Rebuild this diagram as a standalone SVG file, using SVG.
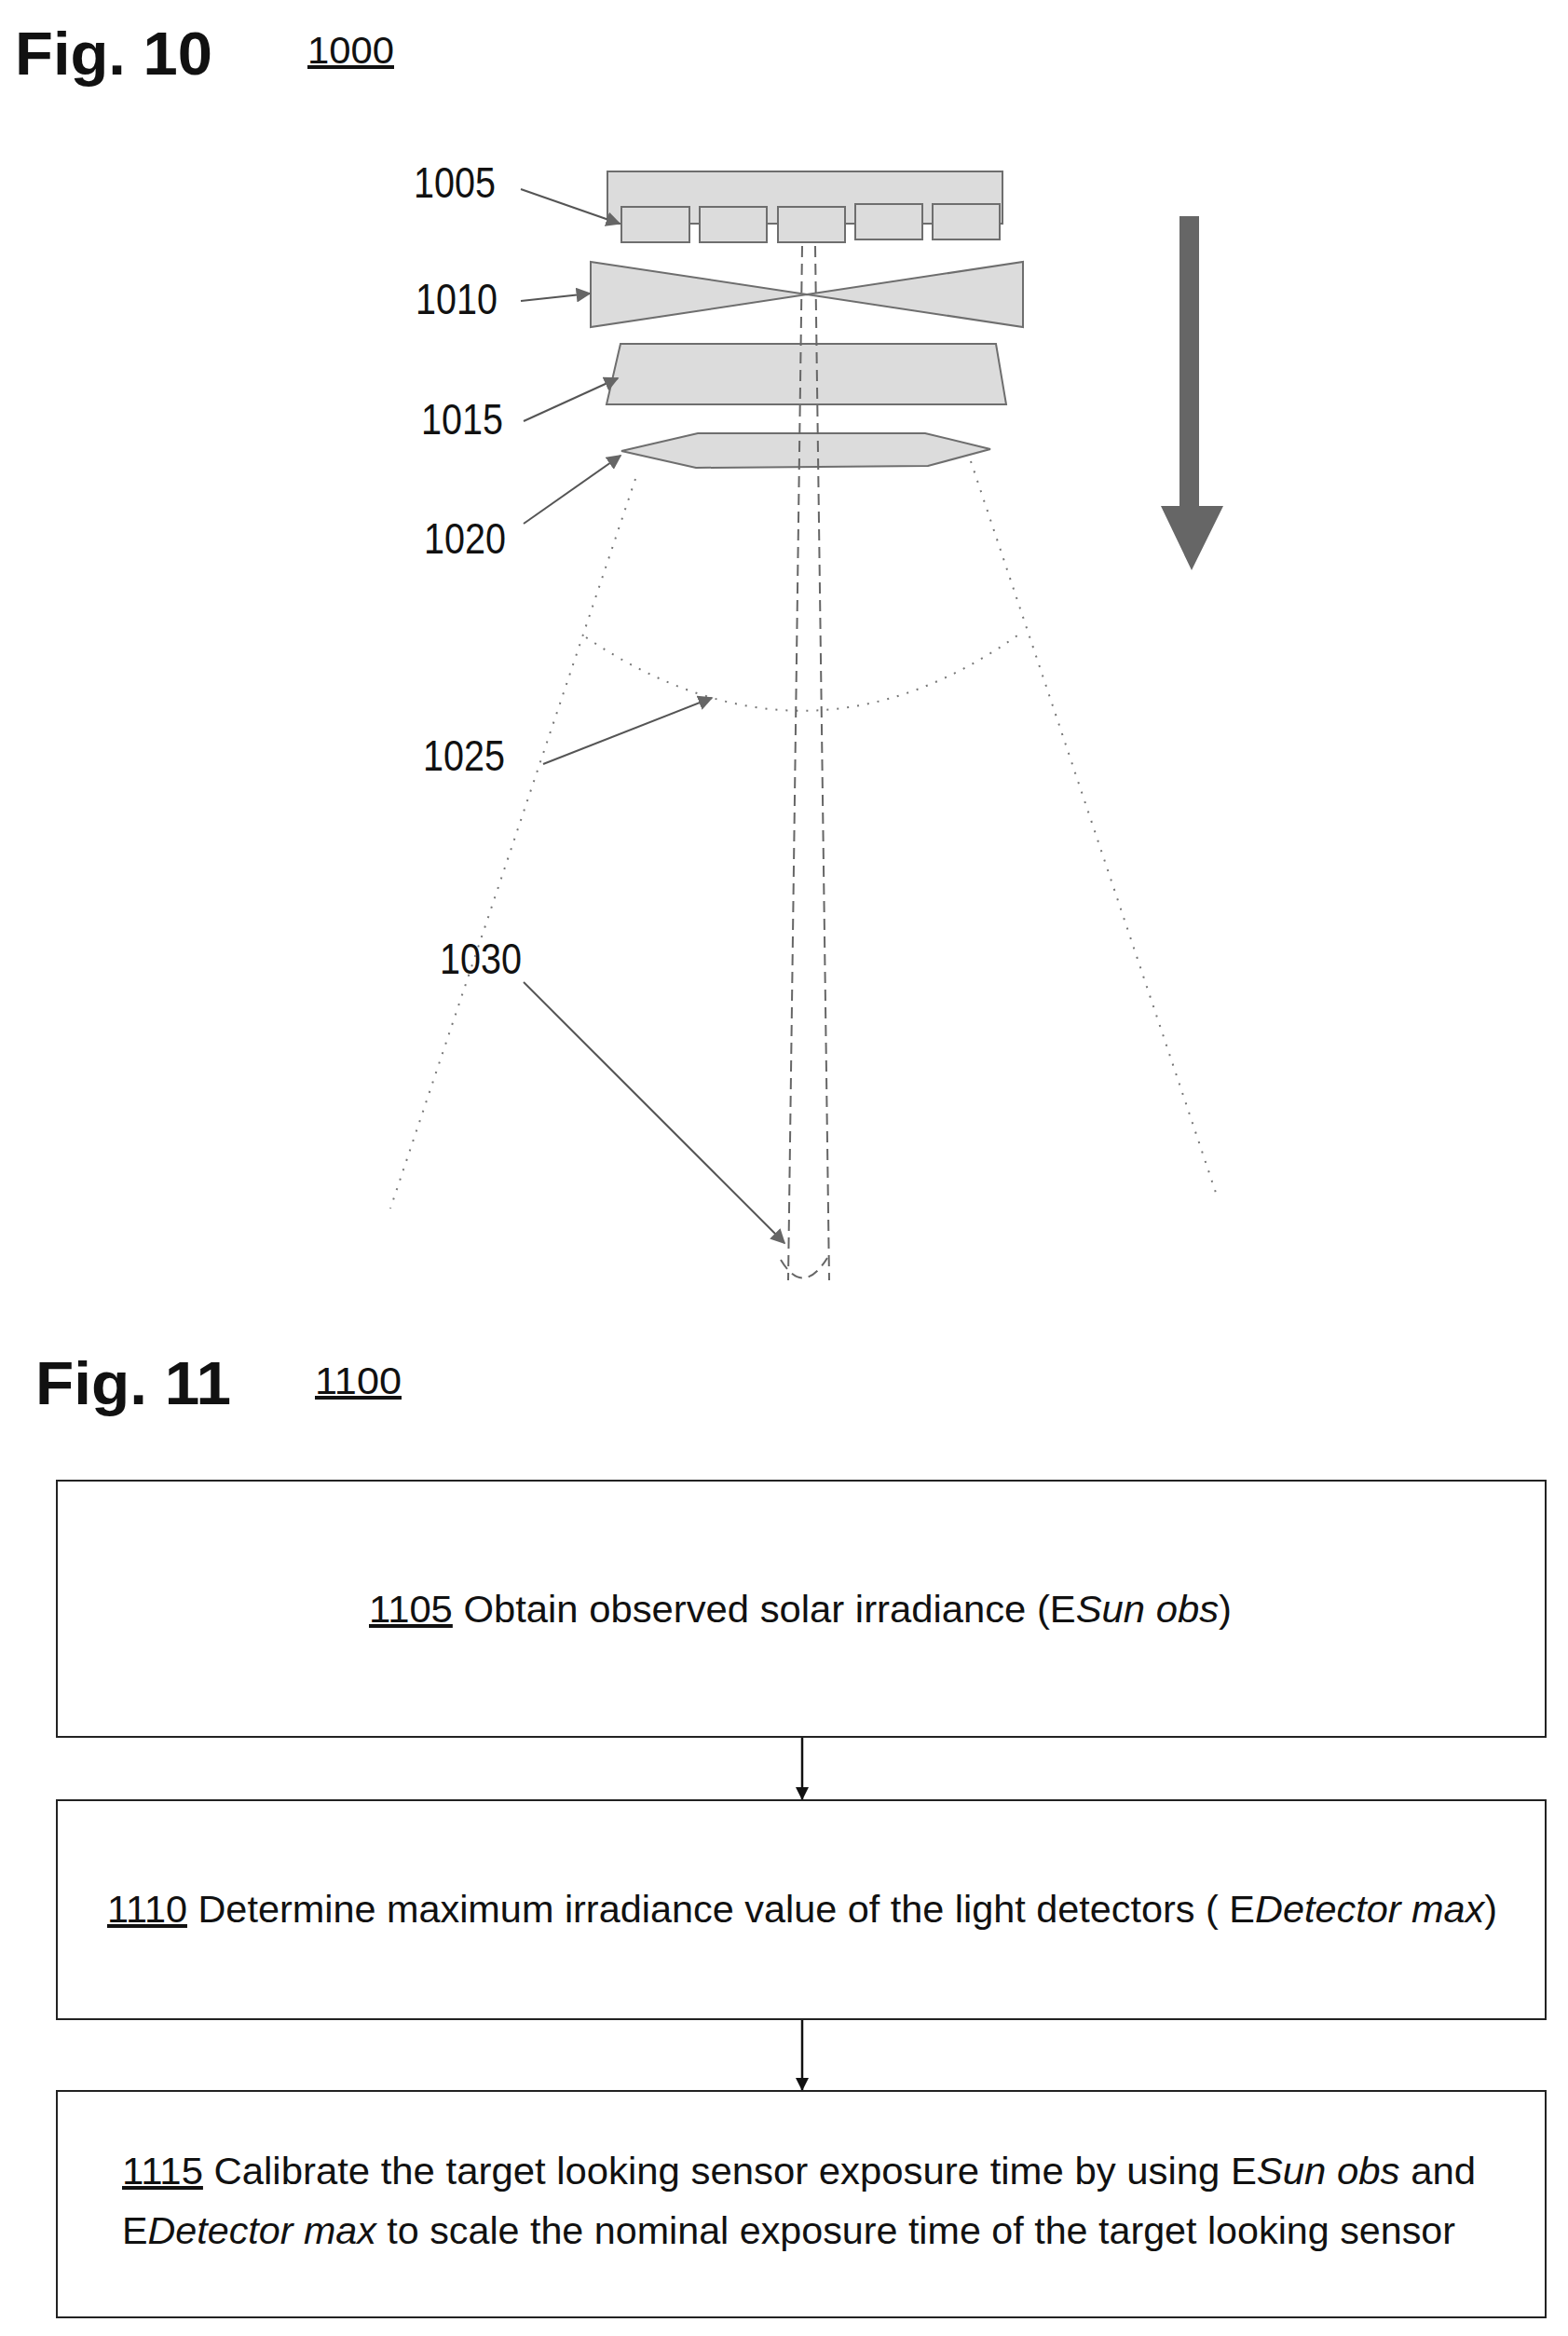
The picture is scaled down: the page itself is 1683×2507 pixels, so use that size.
<svg xmlns="http://www.w3.org/2000/svg" width="1683" height="2507" viewBox="0 0 1683 2507">
<defs>
<style>
.part{fill:#dcdcdc;stroke:#6e6e6e;stroke-width:2}
.lbl{font-family:"Liberation Sans",Arial,sans-serif;font-size:46px;fill:#111}
.lead{stroke:#555;stroke-width:2;fill:none}
.dot{stroke:#777;stroke-width:2;fill:none;stroke-dasharray:2 9}
.dash{stroke:#666;stroke-width:2;fill:none;stroke-dasharray:12 7}
.title{font-family:"Liberation Sans",Arial,sans-serif;font-weight:bold;font-size:64px;fill:#111}
.ref{font-family:"Liberation Sans",Arial,sans-serif;font-size:40px;fill:#111;text-decoration:underline}
.box{fill:#fff;stroke:#222;stroke-width:2}
.bt{font-family:"Liberation Sans",Arial,sans-serif;font-size:40px;fill:#111}
.flow{stroke:#111;stroke-width:2.5;fill:none}
</style>
<marker id="ah" viewBox="0 0 10 10" refX="9" refY="5" markerWidth="16" markerHeight="16" orient="auto" markerUnits="userSpaceOnUse"><path d="M0,0 L10,5 L0,10 z" fill="#666"/></marker>
<marker id="fa" viewBox="0 0 10 10" refX="10" refY="5" markerWidth="14" markerHeight="14" orient="auto" markerUnits="userSpaceOnUse"><path d="M0,0 L10,5 L0,10 z" fill="#111"/></marker>
</defs>
<rect width="1683" height="2507" fill="#fff"/>

<text class="title" x="16" y="80" textLength="212" lengthAdjust="spacingAndGlyphs">Fig. 10</text>
<text class="ref" x="330" y="68" textLength="93" lengthAdjust="spacingAndGlyphs">1000</text>

<g id="n1005">
<rect class="part" x="652" y="184" width="424" height="56"/>
<rect class="part" x="667" y="222" width="73" height="38"/>
<rect class="part" x="751" y="222" width="72" height="38"/>
<rect class="part" x="835" y="222" width="72" height="38"/>
<rect class="part" x="918" y="219" width="72" height="38"/>
<rect class="part" x="1001" y="219" width="72" height="38"/>
<text class="lbl" x="444" y="212" textLength="88" lengthAdjust="spacingAndGlyphs">1005</text>
</g>
<g id="n1010">
<path class="part" d="M634,281 L1098,351 L1098,281 L634,351 Z"/>
<text class="lbl" x="446" y="337" textLength="88" lengthAdjust="spacingAndGlyphs">1010</text>
</g>
<g id="n1015">
<path class="part" d="M666,369 L1069,369 L1080,434 L651,434 Z"/>
<text class="lbl" x="452" y="466" textLength="88" lengthAdjust="spacingAndGlyphs">1015</text>
</g>
<g id="n1020">
<path class="part" d="M667,484 L749,465 L993,465 L1063,482 L996,500 L747,502 Z"/>
<text class="lbl" x="455" y="594" textLength="88" lengthAdjust="spacingAndGlyphs">1020</text>
</g>
<g id="n1025">
<path class="dot" d="M629,684 Q868,845 1099,677"/>
<text class="lbl" x="454" y="827" textLength="88" lengthAdjust="spacingAndGlyphs">1025</text>
</g>
<g id="n1030">
<path class="dash" d="M838,1352 Q862,1392 888,1350"/>
<text class="lbl" x="472" y="1045" textLength="88" lengthAdjust="spacingAndGlyphs">1030</text>
</g>
<g id="beam">
<line class="dot" x1="682" y1="514" x2="419" y2="1297"/>
<line class="dot" x1="1042" y1="495" x2="1307" y2="1286"/>
<line class="dash" x1="861" y1="264" x2="846" y2="1374"/>
<line class="dash" x1="875" y1="264" x2="890" y2="1374"/>
</g>
<g id="bigarrow">
<path d="M1266,232 L1287,232 L1287,543 L1313,543 L1279,612 L1246,543 L1266,543 Z" fill="#666"/>
</g>
<g id="connectors">
<line class="lead" x1="559" y1="203" x2="665" y2="240" marker-end="url(#ah)"/>
<line class="lead" x1="559" y1="323" x2="633" y2="315" marker-end="url(#ah)"/>
<line class="lead" x1="562" y1="452" x2="663" y2="406" marker-end="url(#ah)"/>
<line class="lead" x1="562" y1="562" x2="666" y2="489" marker-end="url(#ah)"/>
<line class="lead" x1="583" y1="820" x2="764" y2="749" marker-end="url(#ah)"/>
<line class="lead" x1="562" y1="1054" x2="842" y2="1334" marker-end="url(#ah)"/>
<line class="flow" x1="861" y1="1864" x2="861" y2="1932" marker-end="url(#fa)"/>
<line class="flow" x1="861" y1="2167" x2="861" y2="2244" marker-end="url(#fa)"/>
</g>

<text class="title" x="38" y="1507" textLength="210" lengthAdjust="spacingAndGlyphs">Fig. 11</text>
<text class="ref" x="338" y="1496" textLength="93" lengthAdjust="spacingAndGlyphs">1100</text>

<g id="s1105">
<rect class="box" x="61" y="1589" width="1598" height="275"/>
<text class="bt" x="396" y="1741" textLength="926" lengthAdjust="spacingAndGlyphs"><tspan text-decoration="underline">1105</tspan> Obtain observed solar  irradiance (E<tspan font-style="italic">Sun obs</tspan>)</text>
</g>
<g id="s1110">
<rect class="box" x="61" y="1932" width="1598" height="235"/>
<text class="bt" x="115" y="2063" textLength="1492" lengthAdjust="spacingAndGlyphs"><tspan text-decoration="underline">1110</tspan> Determine maximum  irradiance value of the light detectors ( E<tspan font-style="italic">Detector max</tspan>)</text>
</g>
<g id="s1115">
<rect class="box" x="61" y="2244" width="1598" height="243"/>
<text class="bt" x="131" y="2344" textLength="1453" lengthAdjust="spacingAndGlyphs"><tspan text-decoration="underline">1115</tspan> Calibrate the target looking sensor exposure time by using   E<tspan font-style="italic">Sun obs</tspan> and</text>
<text class="bt" x="131" y="2408" textLength="1431" lengthAdjust="spacingAndGlyphs">E<tspan font-style="italic">Detector max</tspan> to scale the nominal exposure time of the target looking sensor</text>
</g>
</svg>
